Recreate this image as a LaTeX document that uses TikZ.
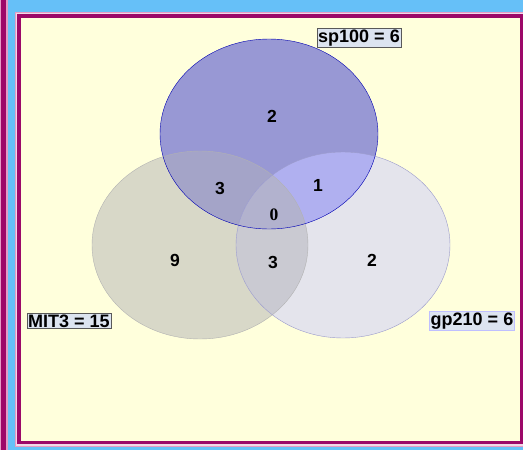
\documentclass[tikz,border=0pt]{standalone}
\usepackage{fontspec}
\setmainfont{Liberation Sans}
\newfontfamily\zerofont{Liberation Serif}
\usepackage{tikz}

\definecolor{sky}{HTML}{66C0F8}
\definecolor{plum}{HTML}{9C0868}
\definecolor{rose}{HTML}{E49CC4}
\definecolor{paper}{HTML}{FFFFDC}
\definecolor{leftfill}{HTML}{D8D8C8}
\definecolor{rightfill}{HTML}{E4E4EC}
\definecolor{topfill}{HTML}{9898D4}
\definecolor{tlfill}{HTML}{A4A4C8}
\definecolor{trfill}{HTML}{B0B0F0}
\definecolor{lrfill}{HTML}{CACAD2}
\definecolor{allfill}{HTML}{B2B2CE}
\definecolor{tagfill}{HTML}{DCE4F0}

\def\setTop{(cT) ellipse [x radius=109pt,y radius=95pt]}
\def\setLeft{(cL) ellipse [x radius=108pt,y radius=94pt]}
\def\setRight{(cR) ellipse [x radius=107pt,y radius=93pt]}

\begin{document}
\begin{tikzpicture}[x=1pt,y=-1pt,
  num/.style={font=\fontsize{17.5}{20}\selectfont\bfseries},
  tag/.style={draw=black!65,fill=tagfill,inner sep=1.2pt,
              font=\fontsize{18}{20}\selectfont\bfseries}
]
\useasboundingbox (0,0) rectangle (523,450);
% page frame
\fill[sky] (0,0) rectangle (523,450);
\fill[rose] (0,0) rectangle (7.5,450);
\fill[plum] (1.2,0) rectangle (6,450);
\fill[rose] (15,12) rectangle (523,447);
\fill[white!60!rose] (16,13) rectangle (523,445.5);
\fill[plum] (17,14) rectangle (523,443.8);
\fill[paper] (20.5,17.5) rectangle (520,441);

\coordinate (cT) at (269,134);
\coordinate (cL) at (200,245);
\coordinate (cR) at (343,245);

% sets
\fill[leftfill] \setLeft;
\fill[rightfill] \setRight;
\fill[topfill] \setTop;
\begin{scope}
  \clip \setLeft;
  \fill[lrfill] \setRight;
\end{scope}
\begin{scope}
  \clip \setTop;
  \fill[tlfill] \setLeft;
  \fill[trfill] \setRight;
  \clip \setLeft;
  \fill[allfill] \setRight;
\end{scope}
\draw[black!30] \setLeft;
\draw[blue!20!rightfill!85!black] \setRight;
\draw[blue!70!black] \setTop;

% counts
\node[num] (onlyT) at (272,116) {2};
\node[num] (tl) at (220,188) {3};
\node[num] (tr) at (318,185) {1};
\node[num,font=\fontsize{17.5}{20}\selectfont\bfseries\zerofont] (tlr) at (274,215) {0};
\node[num] (onlyL) at (175,260) {9};
\node[num] (lr) at (273,262) {3};
\node[num] (onlyR) at (372,260) {2};

% set names
\node[tag] (sp) at (359,38) {sp100 = 6};
\node[tag] (mit) at (69,321) {MIT3 = 15};
\node[tag,draw=blue!25] (gp) at (472,321) {gp210 = 6};
\end{tikzpicture}
\end{document}
